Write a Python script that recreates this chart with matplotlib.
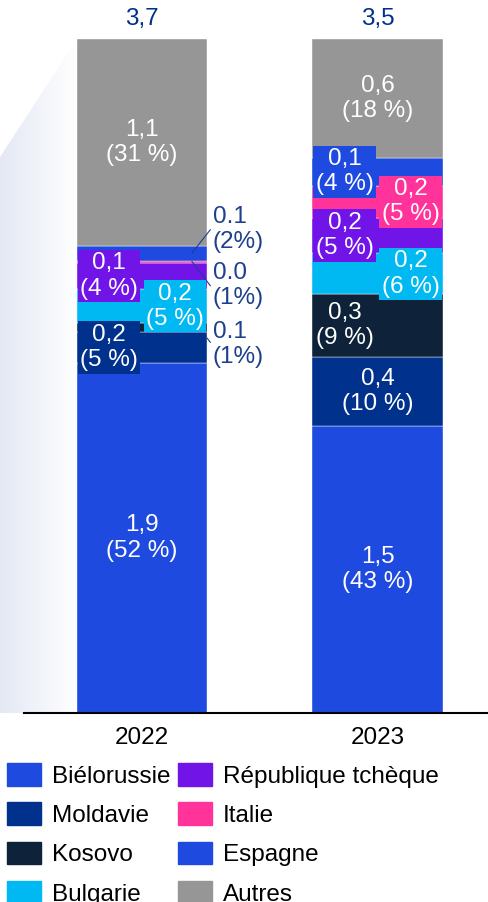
import matplotlib
matplotlib.use("Agg")
import matplotlib.pyplot as plt
import numpy as np
from matplotlib.patches import Patch, Polygon
from matplotlib.colors import LinearSegmentedColormap

plt.rcParams["font.family"] = ["Liberation Sans", "DejaVu Sans"]

years = ["2022", "2023"]
categories = ["Biélorussie", "Moldavie", "Kosovo", "Bulgarie",
              "République tchèque", "Italie", "Espagne", "Autres"]
colors = ["#1f4ae0", "#00318c", "#0e233a", "#00b9f2",
          "#7014e8", "#ff3399", "#1f4ae0", "#969696"]

# parts (%), bottom to top
share_2022 = [52.0, 4.6, 1.3, 5.0, 4.0, 0.3, 2.2, 30.7]
share_2023 = [42.6, 10.2, 9.3, 6.1, 5.3, 4.7, 4.2, 17.6]

labels_2022 = ["1,9\n(52 %)", "0,2\n(5 %)", "0.1\n(1%)", "0,2\n(5 %)",
               "0,1\n(4 %)", "0.0\n(1%)", "0.1\n(2%)", "1,1\n(31 %)"]
labels_2023 = ["1,5\n(43 %)", "0,4\n(10 %)", "0,3\n(9 %)", "0,2\n(6 %)",
               "0,2\n(5 %)", "0,2\n(5 %)", "0,1\n(4 %)", "0,6\n(18 %)"]
totals = ["3,7", "3,5"]

# where each label sits: c=centre, l=left, r=right, o=outside
place_2022 = ["c", "l", "o", "r", "l", "o", "o", "c"]
place_2023 = ["c", "c", "l", "r", "l", "r", "l", "c"]

shares = [share_2022, share_2023]
labels = [labels_2022, labels_2023]
places = [place_2022, place_2023]

W, H = 488, 902
fig = plt.figure(figsize=(W / 100, H / 100), dpi=100)

# decorative gradient at the left
bg = fig.add_axes([0, 0, 1, 1], zorder=-1)
bg.set_xlim(0, W)
bg.set_ylim(H, 0)
bg.axis("off")
cm = LinearSegmentedColormap.from_list("g", ["#e3e8f4", "#ffffff"])
grad = np.linspace(0, 1, 256).reshape(1, -1)
im = bg.imshow(grad, cmap=cm, extent=[0, 77, 713, 39], aspect="auto")
poly = Polygon([(77, 39), (0, 157), (0, 713), (77, 713)], closed=True,
               transform=bg.transData, facecolor="none", edgecolor="none")
bg.add_patch(poly)
im.set_clip_path(poly)

ax = fig.add_axes([24 / W, (H - 713) / H, (W - 24) / W, 674 / H])
ax.set_facecolor("none")
ax.set_xlim(-0.501, 1.469)
ax.set_ylim(0, 100)
bw = 0.553
dx = 0.14
fs = 17.5
navy = "#1c3f8e"

out_y = [54.7, 63.4, 71.7]
out_i = 0
for i, s in enumerate(shares):
    s = np.array(s) / sum(s) * 100
    bottom = 0
    for j, v in enumerate(s):
        ax.bar(i, v, bw, bottom=bottom, color=colors[j],
               edgecolor="white", linewidth=0.3)
        yc = bottom + v / 2
        p = places[i][j]
        if p == "c":
            ax.text(i, yc, labels[i][j], ha="center", va="center",
                    color="white", fontsize=fs, linespacing=1.2)
        elif p in ("l", "r"):
            xx = i - dx if p == "l" else i + dx
            ax.text(xx, yc, labels[i][j], ha="center", va="center",
                    color="white", fontsize=fs, linespacing=1.2,
                    bbox=dict(boxstyle="square,pad=0.1", fc=colors[j], ec="none"))
        else:
            ty = out_y[out_i]
            ax.text(i + 0.30, ty, labels[i][j], ha="left", va="center",
                    color=navy, fontsize=fs, linespacing=1.2)
            if out_i == 0:
                ax.plot([i + 0.277, i + 0.29], [ty + 0.9, ty + 0.3],
                        color=navy, lw=0.8)
            else:
                ax.plot([i + 0.212, i + 0.29], [yc, ty], color=navy, lw=0.8)
            out_i += 1
        bottom += v
    ax.text(i, 103.0, totals[i], ha="center", va="center", color="#00318c",
            fontsize=fs, clip_on=False)

ax.set_xticks([0, 1])
ax.set_xticklabels(years, fontsize=fs)
ax.tick_params(axis="x", length=0, pad=10)
ax.set_yticks([])
for sp in ["top", "left", "right"]:
    ax.spines[sp].set_visible(False)
ax.spines["bottom"].set_linewidth(1.5)

handles = [Patch(color=c) for c in colors]
fig.legend(handles, categories, ncol=2, loc="upper left",
           bbox_to_anchor=(7 / W, 1 - 763 / H), frameon=False, fontsize=fs,
           handlelength=1.4, handleheight=1.07, handletextpad=0.45,
           labelspacing=0.6, columnspacing=0.32, borderpad=0, borderaxespad=0)

fig.savefig("out.png", dpi=100)
